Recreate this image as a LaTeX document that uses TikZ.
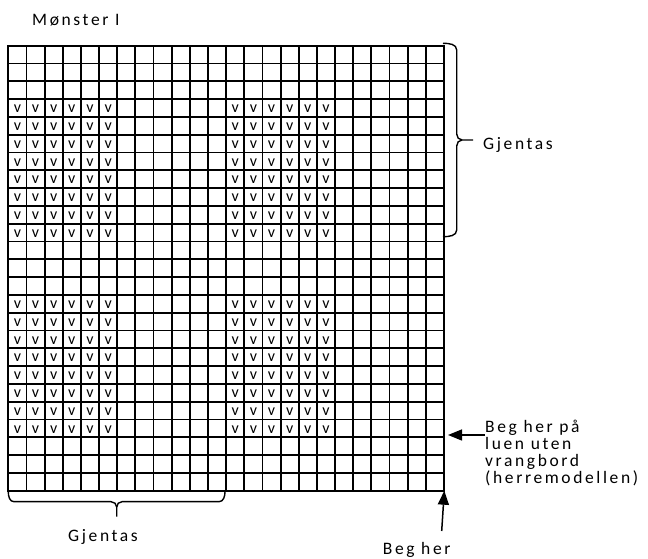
\documentclass[tikz,border=0pt]{standalone}
\usepackage{fontspec}
\setmainfont{Carlito}
\newfontfamily\lblfont{Carlito}[LetterSpace=15]
\usetikzlibrary{arrows.meta}

\begin{document}
\begin{tikzpicture}[
    x=1pt, y=1pt,
    lbl/.style={anchor=base west, inner sep=0, font=\lblfont\fontsize{17.5}{17.3}\selectfont},
    vmark/.style={inner sep=0, font=\fontsize{16}{16}\selectfont},
    gridline/.style={line width=1.9pt, line cap=rect},
    brace/.style={line width=1.4pt},
    arr/.style={line width=1.5pt, -{Triangle[length=14pt,width=11pt]}}
]
\useasboundingbox (0,0) rectangle (648,559);

% ============================================
% TITTEL
% ============================================
\node[lbl] (title) at (32,533) {Mønster I};

% ============================================
% RUTENETT 24 x 25
% ============================================
\begin{scope}[shift={(8.3,68.3)}, x=18.154pt, y=17.8pt]
  % v-masker: to blokker i bredden, to i hoyden
  \foreach \r in {3,4,5,6,7,8,9,10,14,15,16,17,18,19,20,21}
    \foreach \c in {0,1,2,3,4,5,12,13,14,15,16,17}
      \node[vmark] (v-\r-\c) at (\c+0.5,\r+0.45) {v};
  % linjer
  \foreach \i in {0,...,24}
    \draw[gridline] (\i,0) -- (\i,25);
  \foreach \j in {0,...,25}
    \draw[gridline] (0,\j) -- (24,\j);
\end{scope}

% ============================================
% KLAMMER
% ============================================

% Hoyre klamme
\draw[brace] (443,515.7) to[out=0,in=90] (456.7,509) -- (456.7,425)
  to[out=-90,in=180] (462,419) -- (473,419);
\draw[brace] (462,419) to[out=180,in=90] (456.7,413) -- (456.7,329)
  to[out=-90,in=0] (443,322.3);
\node[lbl] (gjentasR) at (483,409.7) {Gjentas};

% Nedre klamme
\draw[brace] (8.3,67.3) to[out=-90,in=180] (14,57.3) -- (111,57.3)
  to[out=0,in=90] (116.7,52) -- (116.7,42.3);
\draw[brace] (116.7,52) to[out=90,in=180] (122,57.3) -- (219,57.3)
  to[out=0,in=-90] (225,67.3);
\node[lbl] (gjentasB) at (68,17.3) {Gjentas};

% ============================================
% PILER
% ============================================
\node[lbl, anchor=north west, align=left] (begluen) at (485,139.5)
  {Beg her på\\luen uten\\vrangbord\\(herremodellen)};
\coordinate (luenTail) at (485,124);
\coordinate (luenTip) at (448,124);
\draw[arr] (luenTail) -- (luenTip);

\node[lbl] (begher) at (382.7,4.5) {Beg her};
\coordinate (herTail) at (441.7,28);
\coordinate (herTip) at (444.3,68.3);
\draw[arr] (herTail) -- (herTip);

\end{tikzpicture}
\end{document}
